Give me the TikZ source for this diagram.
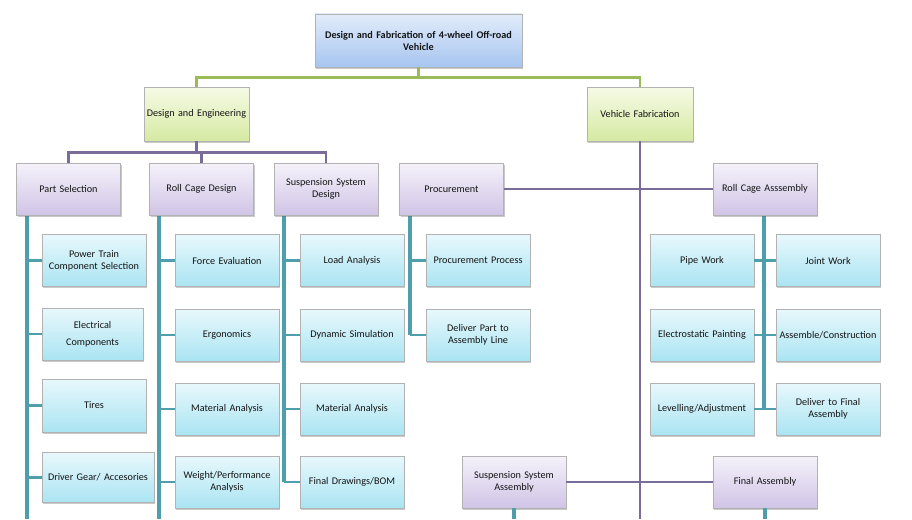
\documentclass[tikz,border=0pt]{standalone}
\usepackage{fontspec}
\setmainfont{Carlito}
\usetikzlibrary{shadows}
\definecolor{lgreen}{HTML}{9BBB59}
\definecolor{lpurple}{HTML}{7A6C98}
\definecolor{lteal}{HTML}{4E9EAB}
\definecolor{txt}{HTML}{141414}
\tikzset{
  box/.style={draw=black!30, line width=0.5pt, align=center, text=txt,
    font=\fontsize{10.2}{12}\selectfont, inner sep=1pt,
    drop shadow={shadow xshift=1.2pt, shadow yshift=-1.6pt, opacity=0.35, fill=black!60}},
  bluebox/.style={box, top color={rgb,255:red,226;green,236;blue,250}, bottom color={rgb,255:red,166;green,197;blue,240},
    minimum width=207pt, minimum height=53pt, text width=205pt, font=\fontsize{10.2}{12}\selectfont\bfseries},
  greenbox/.style={box, top color={rgb,255:red,246;green,250;blue,230}, bottom color={rgb,255:red,214;green,234;blue,162},
    minimum width=105pt, minimum height=54pt, text width=103pt},
  purplebox/.style={box, top color={rgb,255:red,245;green,242;blue,250}, bottom color={rgb,255:red,208;green,196;blue,230},
    minimum width=104pt, minimum height=52pt, text width=102pt},
  tealbox/.style={box, top color={rgb,255:red,232;green,248;blue,252}, bottom color={rgb,255:red,170;green,228;blue,242},
    minimum width=104pt, minimum height=52pt, text width=102pt},
  gline/.style={draw=lgreen, line width=2.6pt},
  pline/.style={draw=lpurple, line width=2.6pt},
  tbus/.style={draw=lteal, line width=3.6pt},
  tline/.style={draw=lteal, line width=2.8pt},
}
\begin{document}
\hyphenpenalty=10000
\begin{tikzpicture}[x=1pt,y=-1pt]
\useasboundingbox[fill=white] (0,0) rectangle (912,519);

\coordinate (vfend) at (640,519);

% ---- level 1 and 2 nodes
\node[bluebox] (top) at (418.5,40.5) {Design and Fabrication of 4-wheel Off-road\\Vehicle};
\node[greenbox] (de) at (196.5,114) {Design and Engineering};
\node[greenbox, minimum width=106pt] (vf) at (640,114) {Vehicle Fabrication};

% green connectors
\draw[gline] (top.south) -- ++(0,10) -| (de.north);
\draw[gline] (top.south) -- ++(0,10) -| (vf.north);

% vehicle fabrication trunk
\draw[pline] (vf.south) -- (vfend);

% purple connectors from Design and Engineering
\coordinate (ps0) at (68.5,189);
\coordinate (rcd0) at (201.5,189);
\coordinate (ssd0) at (326,189);
\draw[pline] (de.south) -- ++(0,11) -| (ps0);
\draw[pline] (de.south) -- ++(0,11) -| (rcd0);
\draw[pline] (de.south) -- ++(0,11) -| (ssd0);

% teal buses (drawn behind boxes)
\coordinate (psbus) at (27,519);
\coordinate (rcdbus) at (159,519);
\coordinate (ssdbus) at (284,482);
\coordinate (procbus) at (410,335);
\coordinate (rcabus) at (764,408);

\draw[tbus] (psbus |- 0,214) -- (psbus);
\draw[tbus] (rcdbus |- 0,214) -- (rcdbus);
\draw[tbus] (ssdbus |- 0,214) -- (ssdbus);
\draw[tbus] (procbus |- 0,214) -- (procbus);
\draw[tbus] (rcabus |- 0,214) -- (rcabus);

% purple level-2 boxes
\node[purplebox, minimum width=103pt] (ps) at (68.5,189) {Part Selection};
\node[purplebox, minimum width=103pt] (rcd) at (201.5,189) {Roll Cage Design};
\node[purplebox] (ssd) at (326,189) {Suspension System\\Design};
\node[purplebox, minimum width=103pt] (proc) at (451.5,189) {Procurement};
\node[purplebox] (rca) at (765,189) {Roll Cage Asssembly};
\node[purplebox] (ssa) at (514,482) {Suspension System\\Assembly};
\node[purplebox] (fa) at (765,482) {Final Assembly};

% horizontal purple links
\draw[pline] (proc.east) -- (rca.west);
\draw[pline] (ssa.east) -- (fa.west);

% teal lines below assemblies
\coordinate (ssaend) at (514,519);
\coordinate (faend) at (765,519);
\draw[tbus] (ssa.south) -- (ssaend);
\draw[tbus] (fa.south) -- (faend);

% ---- Part Selection children
\node[tealbox] (pt) at (94,260.5) {Power Train\\Component Selection};
\node[tealbox, minimum width=101pt, text width=99pt, font=\fontsize{10.2}{17}\selectfont] (el) at (92.5,334) {Electrical\\Components};
\node[tealbox, minimum height=53pt] (ti) at (94,405.5) {Tires};
\node[tealbox, minimum width=112pt, text width=110pt, minimum height=50pt] (dg) at (98,477.5) {Driver Gear/ Accesories};
\foreach \n in {pt,el,ti,dg} \draw[tline] (\n.west) -- (\n.west -| psbus);

% ---- Roll Cage Design children
\node[tealbox] (fe) at (227,260.5) {Force Evaluation};
\node[tealbox] (er) at (227,335) {Ergonomics};
\node[tealbox] (ma1) at (227,409) {Material Analysis};
\node[tealbox] (wp) at (227,482) {Weight/Performance\\Analysis};
\foreach \n in {fe,er,ma1,wp} \draw[tline] (\n.west) -- (\n.west -| rcdbus);

% ---- Suspension System Design children
\node[tealbox] (la) at (352,260.5) {Load Analysis};
\node[tealbox] (ds) at (352,335) {Dynamic Simulation};
\node[tealbox] (ma2) at (352,409) {Material Analysis};
\node[tealbox] (fd) at (352,482) {Final Drawings/BOM};
\foreach \n in {la,ds,ma2,fd} \draw[tline] (\n.west) -- (\n.west -| ssdbus);

% ---- Procurement children
\node[tealbox] (pp) at (478,260.5) {Procurement Process};
\node[tealbox] (dp) at (478,335) {Deliver Part to\\Assembly Line};
\foreach \n in {pp,dp} \draw[tline] (\n.west) -- (\n.west -| procbus);

% ---- Roll Cage Assembly children
\node[tealbox] (pw) at (702,260.5) {Pipe Work};
\node[tealbox] (ep) at (702,335) {Electrostatic Painting};
\node[tealbox] (lv) at (702,409) {Levelling/Adjustment};
\node[tealbox] (jw) at (828,260.5) {Joint Work};
\node[tealbox] (ac) at (828,335) {Assemble/Construction};
\node[tealbox] (dfa) at (828,409) {Deliver to Final\\Assembly};
\foreach \n in {pw,ep,lv} \draw[tline] (\n.east) -- (\n.east -| rcabus);
\foreach \n in {jw,ac,dfa} \draw[tline] (\n.west) -- (\n.west -| rcabus);
\end{tikzpicture}
\end{document}
